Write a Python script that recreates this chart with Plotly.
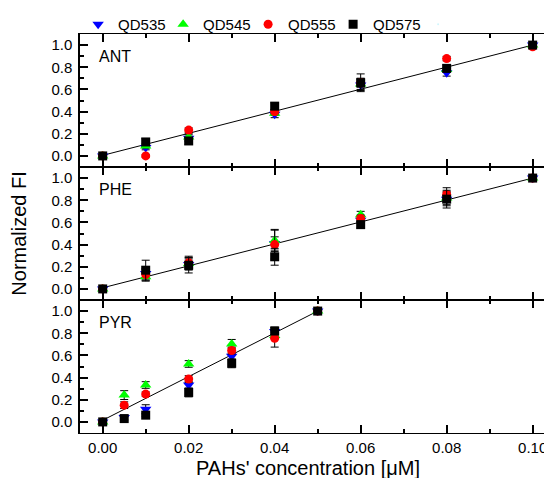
import plotly.graph_objects as go
from plotly.subplots import make_subplots

series_names = ["QD535", "QD545", "QD555", "QD575"]
panel_labels = ["ANT", "PHE", "PYR"]

ant_x = [0.0, 0.01, 0.02, 0.04, 0.06, 0.08, 0.10]
ant_qd535 = [0.0, 0.075, 0.16, 0.375, 0.64, 0.75, 1.0]
ant_qd545 = [0.0, 0.09, 0.17, 0.385, 0.65, 0.78, 1.0]
ant_qd555 = [0.0, 0.0, 0.233, 0.40, 0.66, 0.878, 0.985]
ant_qd575 = [0.0, 0.126, 0.135, 0.449, 0.66, 0.79, 1.0]
ant_err535 = [0.01, 0.02, 0.03, 0.03, 0.05, 0.03, 0.01]
ant_err545 = [0.01, 0.02, 0.03, 0.02, 0.05, 0.02, 0.01]
ant_err555 = [0.01, 0.01, 0.02, 0.02, 0.04, 0.02, 0.01]
ant_err575 = [0.01, 0.03, 0.03, 0.03, 0.08, 0.03, 0.01]
ant_fit_x = [0.0, 0.10]
ant_fit_y = [0.005, 1.0]

phe_x = [0.0, 0.01, 0.02, 0.04, 0.06, 0.08, 0.10]
phe_qd535 = [0.0, 0.14, 0.22, 0.41, 0.62, 0.81, 1.0]
phe_qd545 = [0.0, 0.11, 0.23, 0.437, 0.67, 0.82, 1.0]
phe_qd555 = [0.0, 0.13, 0.235, 0.40, 0.636, 0.853, 1.0]
phe_qd575 = [0.0, 0.169, 0.214, 0.29, 0.58, 0.81, 1.0]
phe_err535 = [0.01, 0.04, 0.05, 0.06, 0.03, 0.06, 0.01]
phe_err545 = [0.01, 0.04, 0.05, 0.10, 0.03, 0.06, 0.01]
phe_err555 = [0.01, 0.05, 0.06, 0.13, 0.03, 0.06, 0.01]
phe_err575 = [0.01, 0.09, 0.07, 0.076, 0.03, 0.08, 0.01]
phe_fit_x = [0.0, 0.10]
phe_fit_y = [0.01, 1.0]

pyr_x = [0.0, 0.005, 0.01, 0.02, 0.03, 0.04, 0.05]
pyr_qd535 = [0.0, 0.04, 0.115, 0.333, 0.592, 0.816, 1.0]
pyr_qd545 = [0.0, 0.242, 0.333, 0.523, 0.704, 0.78, 1.0]
pyr_qd555 = [0.0, 0.151, 0.251, 0.387, 0.644, 0.755, 1.0]
pyr_qd575 = [0.0, 0.03, 0.061, 0.266, 0.529, 0.82, 1.0]
pyr_err535 = [0.01, 0.02, 0.04, 0.03, 0.03, 0.04, 0.01]
pyr_err545 = [0.01, 0.04, 0.03, 0.03, 0.04, 0.03, 0.01]
pyr_err555 = [0.01, 0.03, 0.02, 0.03, 0.03, 0.08, 0.01]
pyr_err575 = [0.01, 0.02, 0.01, 0.04, 0.04, 0.03, 0.01]
pyr_fit_x = [0.0, 0.05]
pyr_fit_y = [0.015, 1.0]

x_tick_vals = [0.0, 0.02, 0.04, 0.06, 0.08, 0.10]
x_tick_text = ["0.00", "0.02", "0.04", "0.06", "0.08", "0.10"]

panels = [
    (ant_x, [ant_qd535, ant_qd545, ant_qd555, ant_qd575],
     [ant_err535, ant_err545, ant_err555, ant_err575], ant_fit_x, ant_fit_y),
    (phe_x, [phe_qd535, phe_qd545, phe_qd555, phe_qd575],
     [phe_err535, phe_err545, phe_err555, phe_err575], phe_fit_x, phe_fit_y),
    (pyr_x, [pyr_qd535, pyr_qd545, pyr_qd555, pyr_qd575],
     [pyr_err535, pyr_err545, pyr_err555, pyr_err575], pyr_fit_x, pyr_fit_y),
]

colors = ["#0000FF", "#00FF00", "#FF0000", "#000000"]
symbols = ["triangle-down", "triangle-up", "circle", "square"]
sizes = [10, 10, 9, 9]

FONT = "Liberation Sans, Arial, sans-serif"

fig = make_subplots(rows=3, cols=1, shared_xaxes=True, vertical_spacing=0)

for r, (xs, ys, errs, fx, fy) in enumerate(panels, start=1):
    fig.add_trace(go.Scatter(x=fx, y=fy, mode="lines",
                             line=dict(color="black", width=1),
                             showlegend=False, hoverinfo="skip"), row=r, col=1)
    for i in range(4):
        fig.add_trace(go.Scatter(
            x=xs, y=ys[i], mode="markers", name=series_names[i],
            legendgroup=series_names[i], showlegend=(r == 1),
            marker=dict(symbol=symbols[i], color=colors[i], size=sizes[i],
                        line=dict(width=0)),
            error_y=dict(type="data", array=errs[i], visible=True,
                         color="black", thickness=1, width=4),
        ), row=r, col=1)

# empty spacer entry so the last legend label is not clipped
fig.add_trace(go.Scatter(x=[None], y=[None], mode="markers", name=" ",
                         marker=dict(opacity=0, size=1), showlegend=True,
                         hoverinfo="skip"), row=1, col=1)

for r in range(1, 4):
    fig.update_xaxes(range=[-0.00528, 0.1045], showline=True, linecolor="black",
                     linewidth=1.2, mirror="ticks", ticks="inside", ticklen=8,
                     tickwidth=1.5, tickcolor="black", tickvals=x_tick_vals,
                     ticktext=x_tick_text, showgrid=False, zeroline=False,
                     minor=dict(ticks="inside", ticklen=4, tickwidth=1.5,
                                tickcolor="black", dtick=0.01, tick0=0,
                                showgrid=False),
                     tickfont=dict(family=FONT, size=15, color="black"),
                     ticklabelstandoff=1,
                     row=r, col=1)
    fig.update_yaxes(range=[-0.1, 1.1], showline=True, linecolor="black",
                     linewidth=1.5, mirror=False, ticks="inside", ticklen=8,
                     tickwidth=1.5, tickcolor="black", dtick=0.2, tick0=0,
                     tickformat=".1f", showgrid=False, zeroline=False,
                     minor=dict(ticks="inside", ticklen=4, tickwidth=1.5,
                                tickcolor="black", dtick=0.1, tick0=0,
                                showgrid=False),
                     tickfont=dict(family=FONT, size=15, color="black"),
                     ticklabelstandoff=3,
                     row=r, col=1)

annotations = []
for r, lab in enumerate(panel_labels, start=1):
    sfx = "" if r == 1 else str(r)
    annotations.append(dict(text=lab, x=-0.0013, y=0.9, xref="x" + sfx,
                            yref="y" + sfx, xanchor="left", yanchor="middle",
                            showarrow=False,
                            font=dict(family=FONT, size=16, color="black")))
annotations.append(dict(text="Normalized FI", x=-0.131, y=0.5, xref="paper",
                        yref="paper", textangle=-90, showarrow=False,
                        xanchor="center", yanchor="middle",
                        font=dict(family=FONT, size=20, color="black")))
annotations.append(dict(text="PAHs' concentration [μM]", x=0.483, y=-0.088,
                        xref="paper", yref="paper", showarrow=False,
                        xanchor="center", yanchor="middle",
                        font=dict(family=FONT, size=20, color="black")))

fig.update_layout(
    width=544, height=470,
    margin=dict(l=72, r=0, t=25, b=45),
    plot_bgcolor="white", paper_bgcolor="white",
    annotations=annotations,
    legend=dict(orientation="h", x=-0.004, y=1.025, xanchor="left",
                yanchor="middle", font=dict(family=FONT, size=15, color="black"),
                bgcolor="rgba(0,0,0,0)", traceorder="normal",
                entrywidth=40, entrywidthmode="pixels"),
    font=dict(family=FONT, color="black"),
)

fig.write_html("out.html")
